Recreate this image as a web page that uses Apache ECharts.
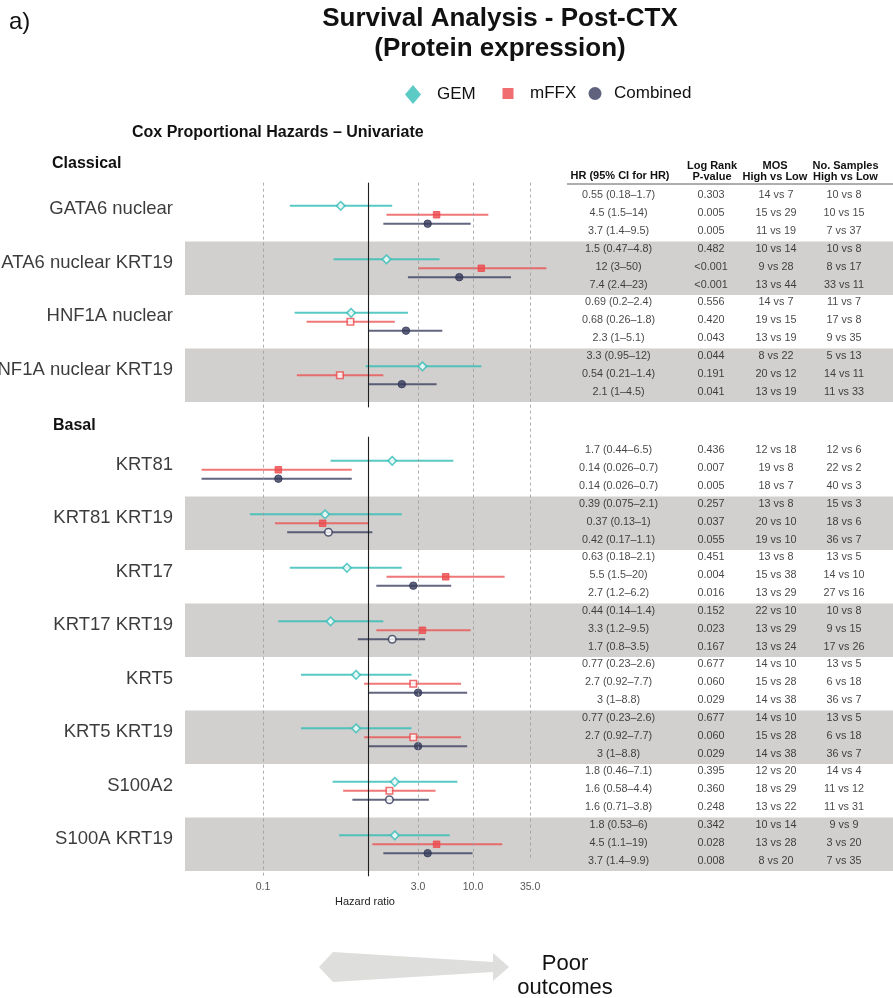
<!DOCTYPE html>
<html><head><meta charset="utf-8">
<script src="https://cdn.jsdelivr.net/npm/echarts@6/dist/echarts.min.js"></script>
<style>html,body{margin:0;padding:0;background:#fff}#c{width:893px;height:998px}</style>
</head><body><div id="c"></div><script>
// ---------------- DATA ----------------
const groupNames = ['Classical', 'Basal'];
const markerNames = ['GATA6 nuclear','GATA6 nuclear KRT19','HNF1A nuclear','HNF1A nuclear KRT19','KRT81','KRT81 KRT19','KRT17','KRT17 KRT19','KRT5','KRT5 KRT19','S100A2','S100A KRT19'];
const markerGroup = [0,0,0,0,1,1,1,1,1,1,1,1];
const cohorts = ['GEM','mFFX','Combined'];

const gemHR  = [0.55,1.5,0.69,3.3,1.7,0.39,0.63,0.44,0.77,0.77,1.8,1.8];
const gemLo  = [0.18,0.47,0.2,0.95,0.44,0.075,0.18,0.14,0.23,0.23,0.46,0.53];
const gemHi  = [1.7,4.8,2.4,12,6.5,2.1,2.1,1.4,2.6,2.6,7.1,6];
const gemP   = ['0.303','0.482','0.556','0.044','0.436','0.257','0.451','0.152','0.677','0.677','0.395','0.342'];
const gemMOS = ['14 vs 7','10 vs 14','14 vs 7','8 vs 22','12 vs 18','13 vs 8','13 vs 8','22 vs 10','14 vs 10','14 vs 10','12 vs 20','10 vs 14'];
const gemN   = ['10 vs 8','10 vs 8','11 vs 7','5 vs 13','12 vs 6','15 vs 3','13 vs 5','10 vs 8','13 vs 5','13 vs 5','14 vs 4','9 vs 9'];

const mffxHR  = [4.5,12,0.68,0.54,0.14,0.37,5.5,3.3,2.7,2.7,1.6,4.5];
const mffxLo  = [1.5,3,0.26,0.21,0.026,0.13,1.5,1.2,0.92,0.92,0.58,1.1];
const mffxHi  = [14,50,1.8,1.4,0.7,1,20,9.5,7.7,7.7,4.4,19];
const mffxP   = ['0.005','<0.001','0.420','0.191','0.007','0.037','0.004','0.023','0.060','0.060','0.360','0.028'];
const mffxMOS = ['15 vs 29','9 vs 28','19 vs 15','20 vs 12','19 vs 8','20 vs 10','15 vs 38','13 vs 29','15 vs 28','15 vs 28','18 vs 29','13 vs 28'];
const mffxN   = ['10 vs 15','8 vs 17','17 vs 8','14 vs 11','22 vs 2','18 vs 6','14 vs 10','9 vs 15','6 vs 18','6 vs 18','11 vs 12','3 vs 20'];

const combHR  = [3.7,7.4,2.3,2.1,0.14,0.42,2.7,1.7,3,3,1.6,3.7];
const combLo  = [1.4,2.4,1,1,0.026,0.17,1.2,0.8,1,1,0.71,1.4];
const combHi  = [9.5,23,5.1,4.5,0.7,1.1,6.2,3.5,8.8,8.8,3.8,9.9];
const combP   = ['0.005','<0.001','0.043','0.041','0.005','0.055','0.016','0.167','0.029','0.029','0.248','0.008'];
const combMOS = ['11 vs 19','13 vs 44','13 vs 19','13 vs 19','18 vs 7','19 vs 10','13 vs 29','13 vs 24','14 vs 38','14 vs 38','13 vs 22','8 vs 20'];
const combN   = ['7 vs 37','33 vs 11','9 vs 35','11 vs 33','40 vs 3','36 vs 7','27 vs 16','17 vs 26','36 vs 7','36 vs 7','11 vs 31','7 vs 35'];

const tickValues = [0.1, 3, 10, 35];
const tickLabels = ['0.1', '3.0', '10.0', '35.0'];
const tableHeaders = [['HR (95% CI for HR)'], ['Log Rank', 'P-value'], ['MOS', 'High vs Low'], ['No. Samples', 'High vs Low']];

// ---------------- LAYOUT / STYLE ----------------
const FONT = "'Liberation Sans', Arial, Helvetica, sans-serif";
const W = 893, H = 998;
const PXU = 53.5 / 3;           // px per row unit
const Y0 = 188;                 // px of unit 0
const GAP = 2.3;                // gap (units) between groups
const YMIN = -0.3, YMAX = 38.6;
const gridTop = Y0 + YMIN * PXU;
const gridH = (YMAX - YMIN) * PXU;
const gridBottom = H - gridTop - gridH;
const X_ONE = 368, PX_DEC = 105, PLOT_L = 185, TABLE_L = 560;
const xMin = Math.pow(10, (PLOT_L - X_ONE) / PX_DEC);
const xMax = Math.pow(10, (W - X_ONE) / PX_DEC);
const COLX = [58.5, 151, 216, 284];
const HEADX = [60, 152, 215, 285.5];
const blockTop = i => 3 * i + (markerGroup[i] === 1 ? GAP : 0);
const localIdx = i => markerNames.slice(0, i).filter((_, k) => markerGroup[k] === markerGroup[i]).length;

const cohortData = [
  {name: cohorts[0], hr: gemHR, lo: gemLo, hi: gemHi, p: gemP, mos: gemMOS, n: gemN, color: '#33BDB6', line: 'rgba(51,189,182,0.82)', symbol: 'diamond', size: 8.5},
  {name: cohorts[1], hr: mffxHR, lo: mffxLo, hi: mffxHi, p: mffxP, mos: mffxMOS, n: mffxN, color: '#EC4A4C', line: 'rgba(236,74,76,0.75)', symbol: 'rect', size: 6.5},
  {name: cohorts[2], hr: combHR, lo: combLo, hi: combHi, p: combP, mos: combMOS, n: combN, color: '#363B5B', line: 'rgba(54,59,91,0.78)', symbol: 'circle', size: 7.5}
];

const series = [];

// background bands
const bands = [];
markerNames.forEach((m, i) => {
  if (localIdx(i) % 2 === 1) bands.push([{yAxis: blockTop(i)}, {yAxis: blockTop(i) + 3}]);
});
series.push({type: 'scatter', xAxisIndex: 0, yAxisIndex: 0, data: [], z: 0, silent: true,
  markArea: {silent: true, itemStyle: {color: '#D1D0CE'}, data: bands}});

// reference lines
const dashStyle = {type: [3, 3], color: '#9a9a9a', width: 0.8};
const solidStyle = {type: 'solid', color: '#1e1e1e', width: 1.1};
const refLines = tickValues.map(v => [
  {coord: [v, YMIN], lineStyle: dashStyle},
  {coord: [v, v === 35 ? 37.6 : YMAX], lineStyle: dashStyle}
]);
refLines.push([{coord: [1, YMIN], lineStyle: solidStyle}, {coord: [1, 12.3], lineStyle: solidStyle}]);
refLines.push([{coord: [1, 12 + GAP - 0.35], lineStyle: solidStyle}, {coord: [1, YMAX], lineStyle: solidStyle}]);
series.push({type: 'scatter', xAxisIndex: 0, yAxisIndex: 0, data: [], z: 1, silent: true,
  markLine: {silent: true, symbol: ['none', 'none'], label: {show: false}, data: refLines}});

// CI lines + points
cohortData.forEach((c, ci) => {
  series.push({
    type: 'custom', name: c.name + ' CI', xAxisIndex: 0, yAxisIndex: 0, z: 3, silent: true,
    data: markerNames.map((m, i) => [c.lo[i], c.hi[i], blockTop(i) + 1 + 0.5 * ci]),
    encode: {x: [0, 1], y: 2},
    renderItem: (params, api) => {
      const a = api.coord([api.value(0), api.value(2)]);
      const b = api.coord([api.value(1), api.value(2)]);
      return {type: 'line', shape: {x1: a[0], y1: a[1], x2: b[0], y2: b[1]}, style: {stroke: c.line, lineWidth: 2}};
    }
  });
});
cohortData.forEach((c, ci) => {
  series.push({
    type: 'scatter', name: c.name, xAxisIndex: 0, yAxisIndex: 0, z: 4,
    symbol: c.symbol, symbolSize: c.size, itemStyle: {color: c.color},
    data: markerNames.map((m, i) => {
      const sig = c.lo[i] >= 1 || c.hi[i] <= 1;
      return {value: [c.hr[i], blockTop(i) + 1 + 0.5 * ci],
        itemStyle: sig ? {color: c.color, borderColor: c.color, borderWidth: 1}
                       : {color: '#ffffff', borderColor: c.color, borderWidth: 1.6}};
    })
  });
});

// marker labels (left)
series.push({type: 'scatter', xAxisIndex: 0, yAxisIndex: 0, symbolSize: 0, silent: true, clip: false, z: 5,
  data: markerNames.map((m, i) => ({value: [xMin, blockTop(i) + 1.5 - 0.3], name: m})),
  label: {show: true, position: 'left', distance: 12, formatter: p => p.name, fontSize: 18.5, color: '#0a0a0a', fontFamily: FONT}});

// tick labels
series.push({type: 'scatter', xAxisIndex: 0, yAxisIndex: 0, symbolSize: 0, silent: true, clip: false, z: 5,
  data: tickValues.map((v, k) => ({value: [v, YMAX], name: tickLabels[k]})),
  label: {show: true, position: 'bottom', distance: 5, formatter: p => p.name, fontSize: 10.5, color: '#2a2a2a', fontFamily: FONT}});

// table cells
const tableCells = [];
markerNames.forEach((m, i) => cohortData.forEach((c, ci) => {
  const y = blockTop(i) + 0.5 + ci;
  const cells = [`${c.hr[i]} (${c.lo[i]}–${c.hi[i]})`, c.p[i], c.mos[i], c.n[i]];
  cells.forEach((t, k) => tableCells.push({value: [COLX[k], y], name: t}));
}));
series.push({type: 'scatter', xAxisIndex: 1, yAxisIndex: 1, symbolSize: 0, silent: true, clip: false, z: 5,
  data: tableCells,
  label: {show: true, position: 'inside', offset: [0, -1.5], formatter: p => p.name, fontSize: 10.8, color: '#161616', fontFamily: FONT}});

// ---------------- GRAPHICS (text) ----------------
const txt = (text, x, y, size, opts = {}) => ({type: 'text', x, y, silent: true, z: 10,
  style: Object.assign({text, fontSize: size, fontFamily: FONT, fill: '#111', align: 'left', verticalAlign: 'middle'}, opts)});
const graphic = [
  txt('a)', 9, 22, 24),
  txt('Survival Analysis - Post-CTX', 500, 19, 26, {fontWeight: 'bold', align: 'center'}),
  txt('(Protein expression)', 500, 49, 26, {fontWeight: 'bold', align: 'center'}),
  txt('Cox Proportional Hazards – Univariate', 132, 132.5, 16, {fontWeight: 'bold'}),
  txt(groupNames[0], 52, 163.5, 16, {fontWeight: 'bold'}),
  txt(groupNames[1], 53, 426, 16, {fontWeight: 'bold'}),
  txt('Hazard ratio', 365, 902, 11, {align: 'center', fill: '#222'}),
  {type: 'line', silent: true, shape: {x1: 567, y1: 184, x2: 893, y2: 184}, style: {stroke: '#333', lineWidth: 0.8}},
  {type: 'polygon', silent: true, z: 1, shape: {points: [[319, 967], [333, 952], [493, 962], [493, 953], [509, 967], [493, 981], [493, 972], [333, 982]]}, style: {fill: '#DEDEDC'}},
  txt('Poor', 565, 964, 22, {align: 'center'}),
  txt('outcomes', 565, 988, 22, {align: 'center'})
];
tableHeaders.forEach((lines, k) => {
  const x = TABLE_L + HEADX[k];
  if (lines.length === 1) graphic.push(txt(lines[0], x, 176, 11, {fontWeight: 'bold', align: 'center'}));
  else {
    graphic.push(txt(lines[0], x, 166, 11, {fontWeight: 'bold', align: 'center'}));
    graphic.push(txt(lines[1], x, 176.5, 11, {fontWeight: 'bold', align: 'center'}));
  }
});

// ---------------- LEGENDS ----------------
const legendCfg = [
  {icon: 'diamond', w: 16, h: 19, left: 405, pad: 11},
  {icon: 'rect', w: 11, h: 11, left: 502.5, pad: 11.5},
  {icon: 'circle', w: 13, h: 13, left: 588.5, pad: 7.5}
];
const legends = cohortData.map((c, ci) => ({
  data: [{name: c.name, icon: legendCfg[ci].icon}],
  left: legendCfg[ci].left, top: 85, padding: 0, itemGap: 0,
  itemWidth: legendCfg[ci].w, itemHeight: legendCfg[ci].h, selectedMode: false,
  textStyle: {fontSize: 17, fontFamily: FONT, color: '#111', padding: [0, 0, 0, legendCfg[ci].pad]}
}));

const chart = echarts.init(document.getElementById('c'), null, {renderer: 'canvas'});
chart.setOption({
  backgroundColor: '#ffffff',
  animation: false,
  legend: legends,
  grid: [
    {left: PLOT_L, right: 0, top: gridTop, bottom: gridBottom, outerBoundsMode: 'none'},
    {left: TABLE_L, right: 0, top: gridTop, bottom: gridBottom, outerBoundsMode: 'none'}
  ],
  xAxis: [
    {gridIndex: 0, type: 'log', logBase: 10, min: xMin, max: xMax, show: false},
    {gridIndex: 1, type: 'value', min: 0, max: W - TABLE_L, show: false}
  ],
  yAxis: [
    {gridIndex: 0, type: 'value', inverse: true, min: YMIN, max: YMAX, show: false},
    {gridIndex: 1, type: 'value', inverse: true, min: YMIN, max: YMAX, show: false}
  ],
  graphic: graphic,
  series: series
});
</script></body></html>
